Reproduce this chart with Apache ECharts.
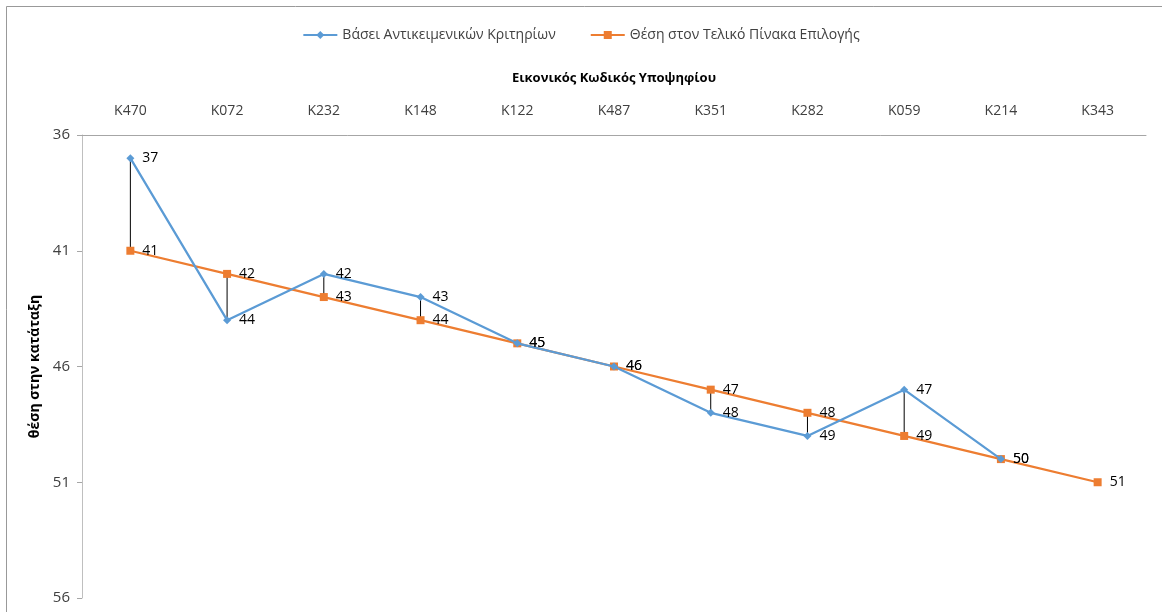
<!DOCTYPE html>
<html>
<head>
<meta charset="utf-8">
<script src="https://cdn.jsdelivr.net/npm/echarts@6/dist/echarts.min.js"></script>
<style>html,body{margin:0;padding:0;background:#fff;}#c{width:1162px;height:612px;}</style>
</head>
<body>
<div id="c"></div>
<script>
var categories = ['K470','K072','K232','K148','K122','K487','K351','K282','K059','K214','K343'];
var objectiveRank = [37, 44, 42, 43, 45, 46, 48, 49, 47, 50, null];
var finalRank = [41, 42, 43, 44, 45, 46, 47, 48, 49, 50, 51];
var seriesNames = ['Βάσει Αντικειμενικών Κριτηρίων', 'Θέση στον Τελικό Πίνακα Επιλογής'];
var xAxisTitle = 'Εικονικός Κωδικός Υποψηφίου';
var yAxisTitle = 'θέση στην κατάταξη';

var FONT = '"Open Sans", "Noto Sans", sans-serif';
var hiLo = categories.map(function (c, i) {
  return [i, objectiveRank[i] == null ? finalRank[i] : objectiveRank[i], finalRank[i]];
});

var chart = echarts.init(document.getElementById('c'), null, {renderer: 'canvas'});
chart.setOption({
  animation: false,
  backgroundColor: '#fff',
  textStyle: {fontFamily: FONT},
  graphic: [
    {type: 'line', shape: {x1: 6.5, y1: 6.5, x2: 6.5, y2: 612}, style: {stroke: '#999', lineWidth: 1}},
    {type: 'line', shape: {x1: 6.5, y1: 6.5, x2: 1162, y2: 6.5}, style: {stroke: '#999', lineWidth: 1}}
  ],
  legend: {
    top: 23, left: 'center', itemGap: 34, itemWidth: 34, itemHeight: 10,
    textStyle: {fontFamily: FONT, fontSize: 14, color: '#404040'},
    data: seriesNames
  },
  grid: {left: 82, right: 16, top: 135, bottom: 14},
  xAxis: {
    type: 'category', position: 'top', data: categories,
    name: xAxisTitle, nameLocation: 'middle', nameGap: 50,
    nameTextStyle: {fontFamily: FONT, fontSize: 13, fontWeight: 'bold', color: '#000'},
    axisLine: {show: true, lineStyle: {color: '#a6a6a6'}},
    axisTick: {show: false},
    axisLabel: {fontFamily: FONT, fontSize: 14, color: '#404040', margin: 17}
  },
  yAxis: {
    type: 'value', inverse: true, min: 36, max: 56, interval: 5,
    name: yAxisTitle, nameLocation: 'middle', nameGap: 36, nameRotate: 90,
    nameTextStyle: {fontFamily: FONT, fontSize: 14, fontWeight: 'bold', color: '#000'},
    axisLine: {show: true, lineStyle: {color: '#bfbfbf'}},
    axisTick: {show: true, length: 5, lineStyle: {color: '#a6a6a6'}},
    axisLabel: {fontFamily: FONT, fontSize: 15, color: '#404040', margin: 12},
    splitLine: {show: false}
  },
  series: [
    {
      type: 'custom', name: 'hilo', silent: true, z: 1,
      data: hiLo,
      renderItem: function (params, api) {
        var a = api.coord([api.value(0), api.value(1)]);
        var b = api.coord([api.value(0), api.value(2)]);
        return {type: 'line', shape: {x1: a[0], y1: a[1], x2: b[0], y2: b[1]}, style: {stroke: '#000', lineWidth: 1}};
      },
      encode: {x: 0, y: [1, 2]}
    },
    {
      name: seriesNames[0], type: 'line', data: objectiveRank, z: 3,
      symbol: 'diamond', symbolSize: 8, showAllSymbol: true,
      itemStyle: {color: '#5B9BD5'},
      lineStyle: {color: '#5B9BD5', width: 2.25},
      label: {show: true, position: 'right', distance: 8, fontFamily: FONT, fontSize: 14, color: '#000'}
    },
    {
      name: seriesNames[1], type: 'line', data: finalRank, z: 2,
      symbol: 'rect', symbolSize: 8, showAllSymbol: true,
      itemStyle: {color: '#ED7D31'},
      lineStyle: {color: '#ED7D31', width: 2.25},
      label: {show: true, position: 'right', distance: 8, fontFamily: FONT, fontSize: 14, color: '#000'}
    }
  ]
});
</script>
</body>
</html>
